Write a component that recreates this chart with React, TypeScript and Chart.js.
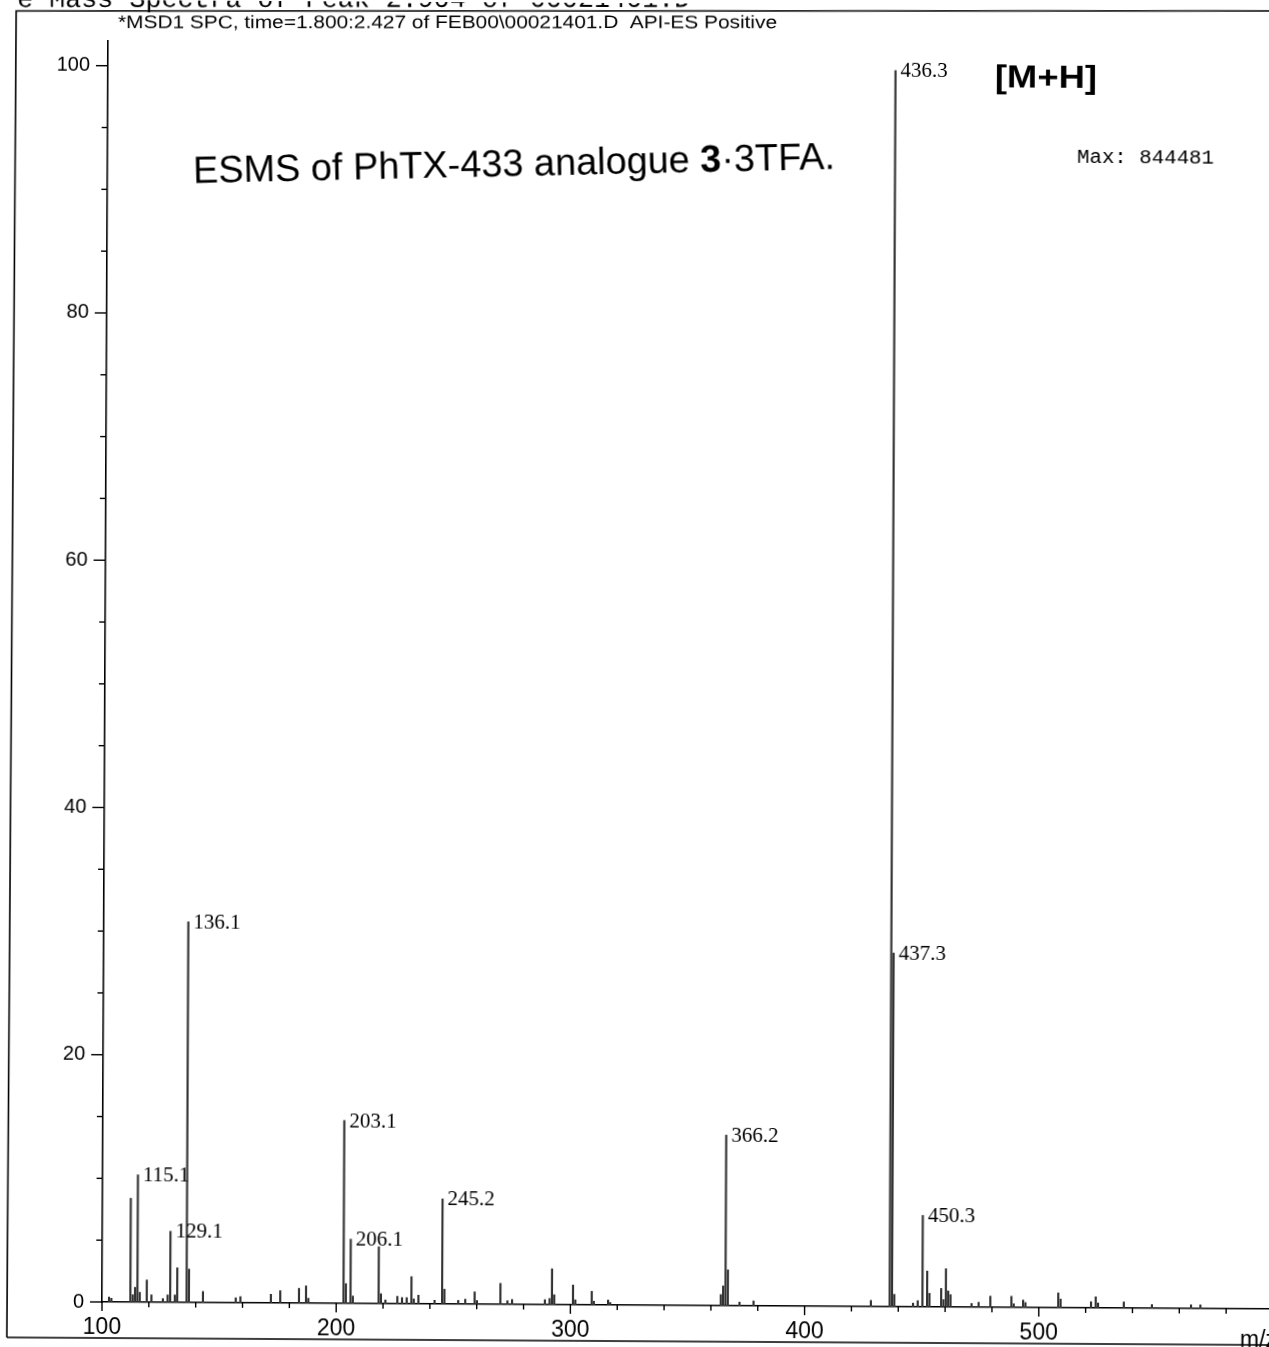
import React, { useEffect, useRef } from 'react';
import { Chart, registerables } from 'chart.js';

Chart.register(...registerables);

// ---- data ----
const peakMz = [
  103.0, 104.0, 112.1, 113.1, 114.1, 115.1, 116.1, 119.1, 121.1, 126.0, 128.0, 129.1, 131.1, 132.1, 136.1, 137.1, 143.1,
  157.1, 159.1, 172.1, 176.1, 184.1, 187.1, 188.1,
  203.1, 204.1, 206.1, 207.1, 218.1, 219.1, 221.0, 226.1, 228.1, 230.1, 232.1, 233.1, 235.1, 242.0, 245.2, 246.2,
  252.1, 255.1, 259.1, 260.1, 270.1, 273.1, 275.1, 289.1, 291.1, 292.1, 293.1,
  301.1, 302.1, 309.1, 310.0, 316.1, 317.0, 364.2, 365.2, 366.2, 367.2, 372.2, 378.2,
  428.3, 436.3, 437.3, 438.3, 446.3, 448.3, 450.3, 452.3, 453.3, 458.3, 459.3, 460.3, 461.3, 462.3,
  471.3, 474.3, 479.3, 488.3, 489.3, 493.3, 494.3, 508.3, 509.3, 522.3, 524.3, 525.3, 536.3, 548.3, 565.0, 569.0,
];
const peakIntensity = [
  0.4, 0.3, 8.4, 0.6, 1.2, 10.3, 0.8, 1.8, 0.6, 0.3, 0.6, 5.75, 0.6, 2.8, 30.8, 2.7, 0.9,
  0.4, 0.5, 0.7, 1.0, 1.2, 1.4, 0.4,
  14.8, 1.6, 5.2, 0.6, 4.6, 0.8, 0.3, 0.6, 0.5, 0.5, 2.2, 0.4, 0.7, 0.3, 8.5, 1.2,
  0.3, 0.4, 1.0, 0.3, 1.7, 0.3, 0.4, 0.4, 0.5, 2.9, 0.8,
  1.6, 0.4, 1.1, 0.3, 0.4, 0.2, 0.9, 1.6, 13.8, 2.9, 0.3, 0.4,
  0.5, 100, 28.6, 1.0, 0.3, 0.5, 7.4, 2.9, 1.1, 1.5, 0.6, 3.1, 1.3, 1.0,
  0.3, 0.4, 0.9, 0.9, 0.3, 0.6, 0.4, 1.2, 0.7, 0.5, 0.9, 0.4, 0.5, 0.3, 0.3, 0.3,
];
const labeledMz = [115.1, 129.1, 136.1, 203.1, 206.1, 245.2, 366.2, 436.3, 437.3, 450.3];

const xTickValues = [100, 200, 300, 400, 500];
const yTickValues = [0, 20, 40, 60, 80, 100];
const X_MIN = 100;
const X_MAX = 600;
const Y_MAX = 102;
const X_MINOR_STEP = 20;
const Y_MINOR_STEP = 5;

const topCutText = 'e Mass Spectra of Peak 2.904 of 00021401.D';
const headerText = '*MSD1 SPC, time=1.800:2.427 of FEB00\\00021401.D  API-ES Positive';
const titleParts = [
  { text: 'ESMS of PhTX-433 analogue ', bold: false },
  { text: '3', bold: true },
  { text: '·', bold: false },
  { text: '3TFA.', bold: false },
];
const ionText = '[M+H]';
const maxText = 'Max: 844481';
const xAxisTitle = 'm/z';

// ---- layout ----
const CANVAS_W = 1300;
const CANVAS_H = 1347;
const SANS = '"Liberation Sans", Arial, sans-serif';
const SERIF = '"Liberation Serif", "Times New Roman", serif';
const MONO = '"Liberation Mono", "Courier New", monospace';

function drawFitted(ctx: CanvasRenderingContext2D, text: string, x: number, y: number, width: number, font: string, angleDeg = 0) {
  ctx.save();
  ctx.font = font;
  const w = ctx.measureText(text).width;
  ctx.translate(x, y);
  ctx.rotate((angleDeg * Math.PI) / 180);
  ctx.scale(width / w, 1);
  ctx.textBaseline = 'alphabetic';
  ctx.textAlign = 'left';
  ctx.fillText(text, 0, 0);
  ctx.restore();
}

const decorPlugin = {
  id: 'msDecor',
  afterDraw(chart: any) {
    const ctx: CanvasRenderingContext2D = chart.ctx;
    const xs = chart.scales.x;
    const ys = chart.scales.y;
    const left = chart.chartArea.left;
    const bottom = chart.chartArea.bottom;
    ctx.save();
    ctx.strokeStyle = '#000';
    ctx.fillStyle = '#000';

    // tick marks
    ctx.lineWidth = 1.4;
    for (let v = 0; v <= 100; v += Y_MINOR_STEP) {
      const py = ys.getPixelForValue(v);
      const len = yTickValues.includes(v) ? 12 : 6;
      ctx.beginPath();
      ctx.moveTo(left - len, py);
      ctx.lineTo(left, py);
      ctx.stroke();
    }
    for (let v = X_MIN; v <= X_MAX; v += X_MINOR_STEP) {
      const px = xs.getPixelForValue(v);
      const len = xTickValues.includes(v) ? 9 : 5;
      ctx.beginPath();
      ctx.moveTo(px, bottom);
      ctx.lineTo(px, bottom + len);
      ctx.stroke();
    }

    // frame
    ctx.lineWidth = 1.6;
    ctx.beginPath();
    ctx.moveTo(7, 1338);
    ctx.lineTo(10, 11.5);
    ctx.lineTo(CANVAS_W, 3.8);
    ctx.moveTo(7, 1338);
    ctx.lineTo(CANVAS_W, 1338);
    ctx.stroke();

    // peak labels
    ctx.font = `21px ${SERIF}`;
    ctx.textBaseline = 'middle';
    ctx.textAlign = 'left';
    labeledMz.forEach((mz) => {
      const i = peakMz.indexOf(mz);
      if (i < 0) return;
      const px = xs.getPixelForValue(mz);
      const py = ys.getPixelForValue(peakIntensity[i]);
      ctx.fillText(mz.toFixed(1), px + 5, py + 1);
    });

    // texts
    drawFitted(ctx, topCutText, 11, 7.5, 673, `26px ${MONO}`, -0.35);
    drawFitted(ctx, headerText, 112, 28, 659, `18px ${SANS}`, -0.34);
    drawFitted(ctx, ionText, 989, 81.6, 102, `bold 31px ${SANS}`);
    drawFitted(ctx, maxText, 1071.5, 157.2, 137, `20px ${MONO}`);

    // title with mixed weights, fitted to width
    ctx.save();
    const parts = titleParts.map((p) => ({ ...p, font: `${p.bold ? 'bold ' : ''}38px ${SANS}` }));
    let total = 0;
    const widths = parts.map((p) => {
      ctx.font = p.font;
      const w = ctx.measureText(p.text).width;
      total += w;
      return w;
    });
    ctx.translate(188, 182.5);
    ctx.rotate((-1.6 * Math.PI) / 180);
    ctx.scale(642 / total, 1);
    ctx.textBaseline = 'alphabetic';
    let cx = 0;
    parts.forEach((p, i) => {
      ctx.font = p.font;
      ctx.fillText(p.text, cx, 0);
      cx += widths[i];
    });
    ctx.restore();

    ctx.font = `23px ${SANS}`;
    ctx.textBaseline = 'alphabetic';
    ctx.fillText(xAxisTitle, 1240, 1340);
    ctx.restore();
  },
};

export default function App() {
  const canvasRef = useRef<HTMLCanvasElement | null>(null);

  useEffect(() => {
    const canvas = canvasRef.current;
    if (!canvas) return;
    const chart = new Chart(canvas, {
      type: 'bar',
      data: {
        datasets: [
          {
            data: peakMz.map((m, i) => ({ x: m, y: peakIntensity[i] })),
            backgroundColor: '#333',
            borderWidth: 0,
            barThickness: 1.5,
            grouped: false,
          } as any,
        ],
      },
      options: {
        responsive: false,
        animation: false,
        devicePixelRatio: 1,
        layout: { padding: { top: 41, right: CANVAS_W - 1273, left: 0, bottom: 0 } },
        plugins: {
          legend: { display: false },
          tooltip: { enabled: false },
          title: { display: false },
        },
        scales: {
          x: {
            type: 'linear',
            min: X_MIN,
            max: X_MAX,
            offset: false,
            grid: { display: false, drawTicks: false },
            border: { display: true, color: '#000', width: 1.6 },
            ticks: {
              stepSize: 100,
              autoSkip: false,
              maxRotation: 0,
              padding: 12,
              color: '#000',
              font: { family: SANS, size: 23 },
              callback: (v: any) => (xTickValues.includes(Number(v)) ? String(v) : ''),
            },
            afterFit: (s: any) => {
              s.height = CANVAS_H - 1302;
            },
          },
          y: {
            type: 'linear',
            min: 0,
            max: Y_MAX,
            grid: { display: false, drawTicks: false },
            border: { display: true, color: '#000', width: 1.6 },
            ticks: {
              stepSize: 20,
              includeBounds: false,
              padding: 18,
              color: '#000',
              font: { family: SANS, size: 20 },
              callback: (v: any) => (yTickValues.includes(Number(v)) ? String(v) : ''),
            },
            afterFit: (s: any) => {
              s.width = 102;
            },
          },
        },
      } as any,
      plugins: [decorPlugin],
    });
    return () => chart.destroy();
  }, []);

  return (
    <div
      style={{
        position: 'fixed',
        left: 0,
        top: 0,
        width: 1269,
        height: 1347,
        overflow: 'hidden',
        background: '#fff',
      }}
    >
      <canvas
        ref={canvasRef}
        width={CANVAS_W}
        height={CANVAS_H}
        style={{
          display: 'block',
          width: CANVAS_W,
          height: CANVAS_H,
          transform: 'matrix(1, 0.006, -0.0048, 1, 0, 0)',
          transformOrigin: '102px 1302px',
        }}
      />
    </div>
  );
}
